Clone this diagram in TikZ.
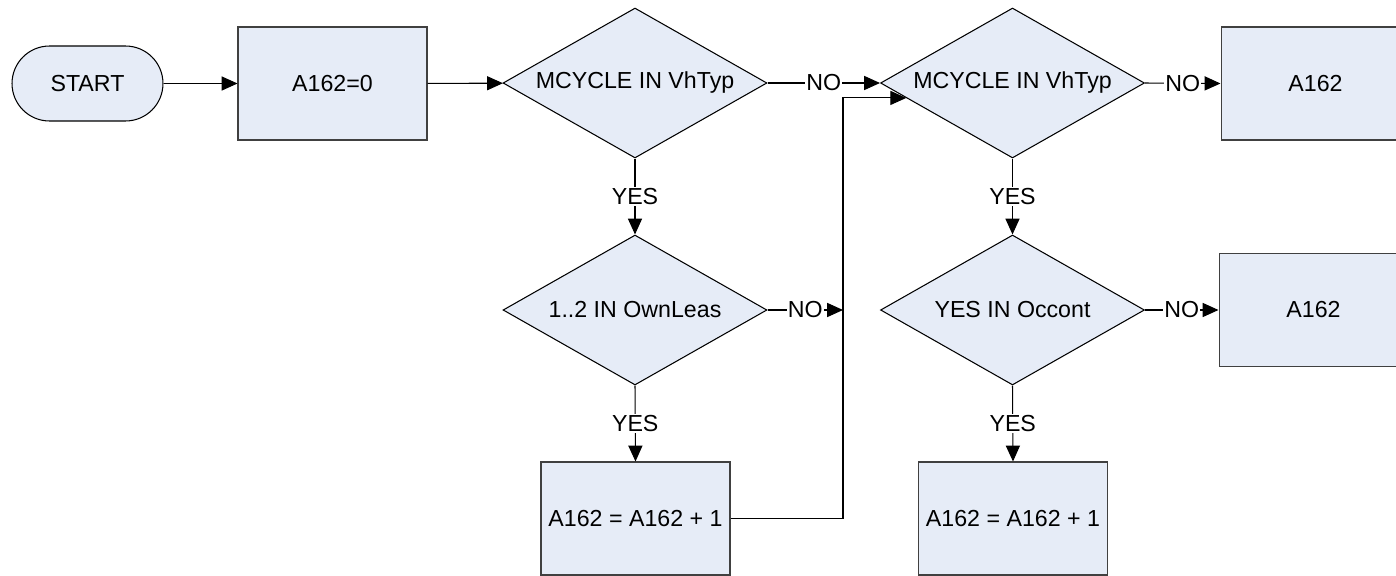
\documentclass[tikz,border=0pt]{standalone}
\usepackage{fontspec}
\setmainfont{Liberation Sans}
\usetikzlibrary{shapes.geometric,arrows.meta}
\definecolor{boxfill}{RGB}{230,236,247}
\newcommand{\chartfont}{\fontsize{13.2}{15}\selectfont}
\tikzset{
  proc/.style={draw=black!75, fill=boxfill, line width=0.6pt, minimum width=3.78cm, minimum height=2.26cm, font=\chartfont},
  test/.style={diamond, draw, fill=boxfill, line width=0.6pt, aspect=1.76, inner sep=0pt, minimum width=5.28cm, minimum height=3cm, font=\chartfont},
  term/.style={draw, fill=boxfill, line width=0.6pt, rounded corners=0.75cm, minimum width=3.02cm, minimum height=1.5cm, font=\chartfont},
  flow/.style={-{Triangle[length=9pt,width=8pt]}, line width=0.6pt},
  tag/.style={fill=white, inner sep=0.5pt, font=\chartfont}
}
\begin{document}
\begin{tikzpicture}[x=0.02cm, y=-0.02cm]
            \clip (0,0) rectangle (1396,575);
            % top row
            \node[term] (start) at (87.5,83.5) {START};
            \node[proc] (init) at (332.5,83.5) {A162=0};
            \node[test] (chk1) at (635,83) {MCYCLE IN VhTyp};
            \node[test] (chk2) at (1012.5,83) {MCYCLE IN VhTyp};
            \node[proc] (out1) at (1315.5,83.5) {A162};
            % middle row
            \node[test] (chk3) at (635,310) {1..2 IN OwnLeas};
            \node[test] (chk4) at (1012.5,310) {YES IN Occont};
            \node[proc] (out2) at (1313.5,310) {A162};
            % bottom row
            \node[proc] (inc1) at (635.5,518.5) {A162 = A162 + 1};
            \node[proc] (inc2) at (1013,518.5) {A162 = A162 + 1};
            \coordinate (bend) at (843,0);
            \draw[flow] (start) -- (init);
            \draw[flow] (init) -- (chk1);
            \draw[flow] (chk1.east) -- node[tag] {NO} (chk2.west);
            \draw[flow] (chk2.east) -- node[tag] {NO} (out1.west);
            \draw[flow] (chk1.south) -- node[tag] {YES} (chk3.north);
            \draw[flow] (chk2.south) -- node[tag] {YES} (chk4.north);
            \draw[flow] (chk3.east) -- node[tag] {NO} (chk3.east -| bend);
            \draw[flow] (chk4.east) -- node[tag] {NO} (out2.west);
            \draw[flow] (chk3.south) -- node[tag] {YES} (inc1.north);
            \draw[flow] (chk4.south) -- node[tag] {YES} (inc2.north);
            \draw[flow] (inc1.east) -| (bend |- chk2.188) -- (chk2.188);
\end{tikzpicture}
\end{document}
